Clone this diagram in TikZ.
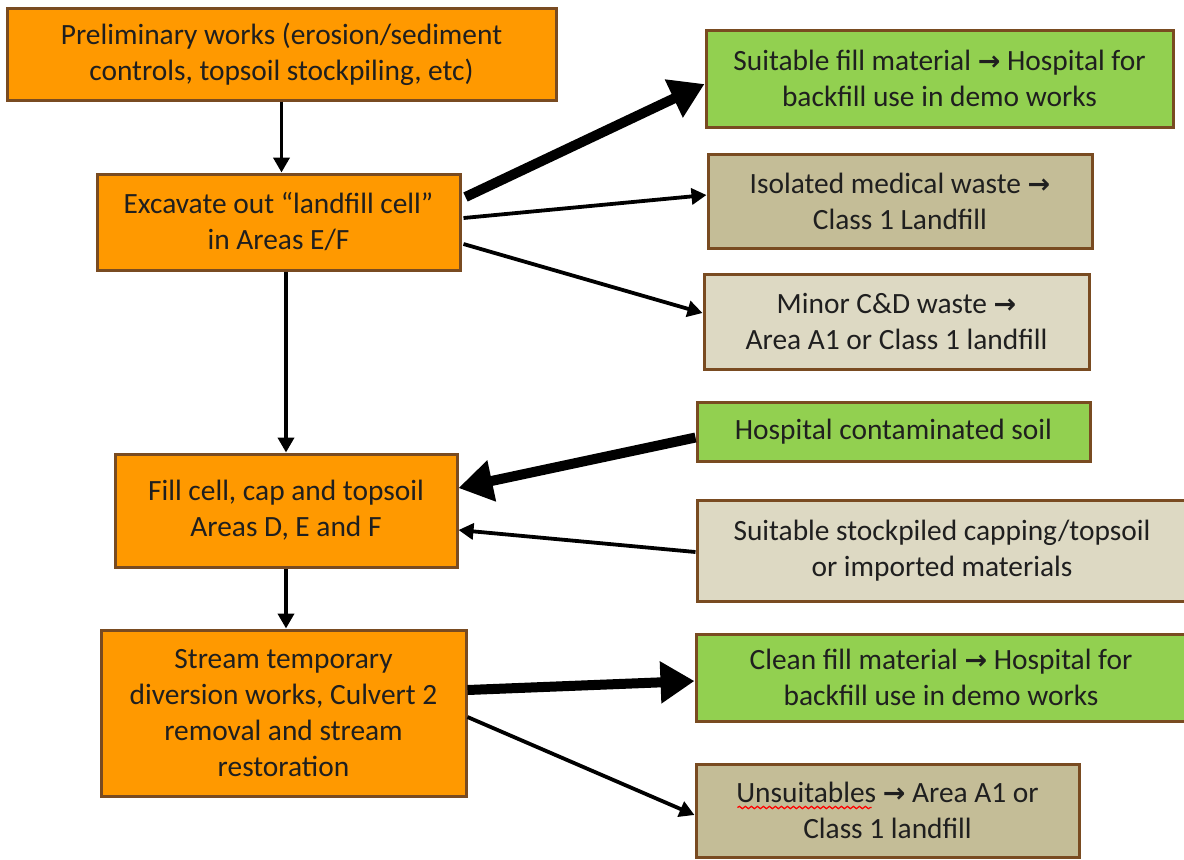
\documentclass[tikz,border=0pt]{standalone}
\usepackage{fontspec}
\setmainfont{Carlito}
\newfontfamily\arrowfont{DejaVu Sans}
\newcommand{\toarr}{{\arrowfont\bfseries\fontsize{13.5pt}{18pt}\selectfont →}}
\usepackage{tikz}
\usetikzlibrary{arrows.meta}
\usetikzlibrary{decorations.pathmorphing}
\usetikzlibrary{positioning}

\definecolor{boxorange}{RGB}{255,153,0}
\definecolor{boxgreen}{RGB}{146,208,80}
\definecolor{boxtan}{RGB}{196,189,151}
\definecolor{boxlight}{RGB}{221,217,195}
\definecolor{boxline}{RGB}{121,75,33}

\begin{document}
\begin{tikzpicture}[%
x={(0.5pt,0cm)},
y={(0cm,-0.5pt)},
box/.style={draw=boxline,line width=1.5pt,align=center,inner sep=0pt,
  font=\fontsize{14.7pt}{18pt}\selectfont,text=black!88},
stage/.style={box,fill=boxorange},
good/.style={box,fill=boxgreen},
waste/.style={box,fill=boxtan},
misc/.style={box,fill=boxlight},
thin/.style={line width=1.9pt,-{Triangle[length=7.5pt,width=8pt]}},
thick/.style={line width=5pt,-{Triangle[length=17pt,width=20pt]}},
]

\useasboundingbox (0,0) rectangle (1184,859);

%Stufen
\node[stage,minimum width=274.5pt,minimum height=46pt](prelim) at (281.5,54)
{Preliminary works (erosion/sediment\\controls, topsoil stockpiling, etc)};
\node[stage,minimum width=181.5pt,minimum height=48pt](excav) at (278.5,222)
{Excavate out “landfill cell”\\in Areas E/F};
\node[stage,minimum width=171pt,minimum height=56.5pt](fillcell) at (286,510.5)
{Fill cell, cap and topsoil\\Areas D, E and F};
\node[stage,minimum width=182.5pt,minimum height=83pt](stream) at (283.5,713)
{Stream temporary\\diversion works, Culvert 2\\removal and stream\\restoration};

%Material
\node[good,minimum width=233.5pt,minimum height=48.5pt](suitfill) at (939.5,78.5)
{Suitable fill material \toarr{} Hospital for\\backfill use in demo works};
\node[waste,minimum width=192pt,minimum height=47pt](medical) at (900,201)
{Isolated medical waste \toarr\\Class 1 Landfill};
\node[misc,minimum width=192.5pt,minimum height=47.5pt](minorcd) at (896.5,321.5)
{Minor C\&D waste \toarr\\Area A1 or Class 1 landfill};
\node[good,minimum width=196.5pt,minimum height=29.5pt](hospsoil) at (893.5,431.5)
{Hospital contaminated soil};
\node[misc,minimum width=245pt,minimum height=50.5pt](stockpile) at (942,550.5)
{Suitable stockpiled capping/topsoil\\or imported materials};
\node[good,minimum width=245pt,minimum height=43.5pt](cleanfill) at (941,677.5)
{Clean fill material \toarr{} Hospital for\\backfill use in demo works};
\node[waste,minimum width=191.5pt,minimum height=46.5pt](unsuit) at (887.5,810.5)
{Unsuitables \toarr{} Area A1 or\\Class 1 landfill};

%Rechtschreibung
\draw[red,line width=0.6pt,decorate,decoration={snake,segment length=3pt,amplitude=0.6pt}]
([xshift=-75pt,yshift=1.5pt]unsuit.center) -- ([xshift=-8pt,yshift=1.5pt]unsuit.center);

%Pfeile
\draw[thin] (prelim.south) -- (prelim.south |- excav.north);
\draw[thin] (fillcell.north |- excav.south) -- (fillcell.north);
\draw[thin] (fillcell.south) -- (fillcell.south |- stream.north);

\draw[thick] ([xshift=2pt,yshift=12.5pt]excav.east) -- ([yshift=-2.75pt]suitfill.west);
\draw[thin] ([xshift=1pt,yshift=2pt]excav.east) -- ([yshift=3pt]medical.west);
\draw[thin] ([xshift=1pt,yshift=-11pt]excav.east) -- ([yshift=4.25pt]minorcd.west);

\draw[thick] ([yshift=-3pt]hospsoil.west) -- ([yshift=11.25pt]fillcell.east);
\draw[thin] ([yshift=-0.75pt]stockpile.west) -- ([yshift=-9.75pt]fillcell.east);

\draw[thick] ([yshift=11.5pt]stream.east) -- ([yshift=-1.75pt]cleanfill.west);
\draw[thin] ([yshift=-2pt]stream.east) -- ([yshift=-2.25pt]unsuit.west);

\end{tikzpicture}
\end{document}
